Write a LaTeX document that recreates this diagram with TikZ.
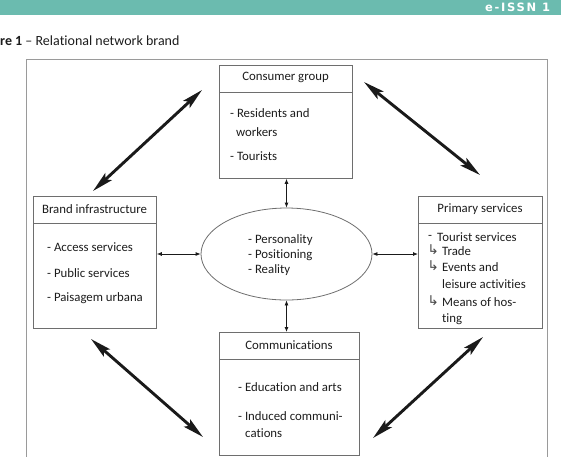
\documentclass[tikz,border=0pt]{standalone}
\usepackage{fontspec}
\setmainfont{Carlito}[Ligatures=NoCommon]
\newfontfamily\symf{DejaVu Sans}
\newfontfamily\hdrf[LetterSpace=15]{DejaVu Sans}
\usetikzlibrary{arrows.meta,shapes.geometric}
\definecolor{teal1}{HTML}{6BBBAF}
\definecolor{framec}{HTML}{9A9A9A}
\definecolor{boxc}{HTML}{6E6E6E}
\definecolor{ink}{HTML}{1C1C1C}
\definecolor{arr}{HTML}{1A1A1A}
\begin{document}
\begin{tikzpicture}[x=1pt,y=-1pt,
  box/.style={draw=boxc,line width=0.8pt,inner sep=0pt,anchor=north west},
  hdr/.style={inner sep=0pt,text=ink,font=\fontsize{12.8}{15}\selectfont},
  item/.style={inner sep=0pt,anchor=west,text=ink,font=\fontsize{12.8}{15}\selectfont},
  hook/.style={inner sep=0pt,anchor=west,text=ink!80,font=\symf\fontsize{13.5}{14}\selectfont},
  small/.style={arr,line width=0.8pt,{Latex[length=5pt,width=4pt]}-{Latex[length=5pt,width=4pt]}},
  big/.style={arr,line width=2.9pt,{Stealth[length=21pt,width=9.5pt,inset=4pt]}-{Stealth[length=21pt,width=9.5pt,inset=4pt]}}
]
\useasboundingbox (0,0) rectangle (561,456);
\begin{scope}
\clip (0,0) rectangle (561,456);
% header band
\fill[teal1] (0,0) rectangle (561,15);
\node[anchor=west,inner sep=0pt,text=white,font=\hdrf\bfseries\fontsize{11.5}{12}\selectfont] (issn) at (485,7.5) {e-ISSN 1};
% caption
\node[anchor=west,inner sep=0pt,text=ink,font=\fontsize{14}{16}\selectfont] (cap) at (0,41) {\textbf{re 1} – Relational network brand};
% outer frame
\draw[framec,line width=0.9pt] (26,470) -- (26,59) -- (547,59) -- (547,470);

% boxes
\node[box,minimum width=133pt,minimum height=113pt] (cg) at (219,65) {};
\node[box,minimum width=123pt,minimum height=132pt] (bi) at (33,196) {};
\node[box,minimum width=124pt,minimum height=132pt] (ps) at (418,196) {};
\node[box,minimum width=140pt,minimum height=123pt] (cm) at (219,332) {};
\node[draw=boxc,line width=0.8pt,ellipse,minimum width=171pt,minimum height=92pt,inner sep=0pt] (el) at (286.5,254) {};

% header dividers
\foreach \b in {cg,bi,ps,cm}{
  \draw[boxc,line width=0.8pt] ([yshift=-27pt]\b.north west) -- ([yshift=-27pt]\b.north east);
}

% headers
\node[hdr] (cgh) at (285.5,77.5) {Consumer group};
\node[hdr] (bih) at (94.5,209.5) {Brand infrastructure};
\node[hdr] (psh) at (480,209.5) {Primary services};
\node[hdr] (cmh) at (289,345.5) {Communications};

% consumer group items
\node[item] (cg1) at (230,113) {- Residents and};
\node[item] (cg2) at (236,132) {workers};
\node[item] (cg3) at (230,156) {- Tourists};

% brand infrastructure items
\node[item] (bi1) at (47,247) {- Access services};
\node[item] (bi2) at (47,273) {- Public services};
\node[item] (bi3) at (47,298) {- Paisagem urbana};

% primary services items
\node[item] (ps0) at (428,237) {-};
\node[item] (ps1) at (437,237) {Tourist services};
\node[hook] (pa1) at (427.5,250) {↳};
\node[item] (ps2) at (442,251) {Trade};
\node[hook] (pa2) at (427.5,266) {↳};
\node[item] (ps3) at (442,267) {Events and};
\node[item] (ps4) at (442,284) {leisure activities};
\node[hook] (pa3) at (427.5,301) {↳};
\node[item] (ps5) at (442,302) {Means of hos-};
\node[item] (ps6) at (442,319) {ting};

% communications items
\node[item] (cm1) at (238,387) {- Education and arts};
\node[item] (cm2) at (238,416) {- Induced communi-};
\node[item] (cm3) at (245,433) {cations};

% ellipse items
\node[item] (el1) at (248,240) {- Personality};
\node[item] (el2) at (248,255) {- Positioning};
\node[item] (el3) at (248,270) {- Reality};

% small arrows
\draw[small] (cg.south -| el.north) -- (el.north);
\draw[small] (bi.east |- el.west) -- (el.west);
\draw[small] (el.east) -- (ps.west |- el.east);
\draw[small] (el.south) -- (el.south |- cm.north);

% big diagonal arrows
\coordinate (a1) at (202,90);  \coordinate (a2) at (93,191);
\coordinate (b1) at (364,82);  \coordinate (b2) at (480,175);
\coordinate (c1) at (91,339);  \coordinate (c2) at (203,437);
\coordinate (d1) at (483,337); \coordinate (d2) at (373,438);
\draw[big] (a1) -- (a2);
\draw[big] (b1) -- (b2);
\draw[big] (c1) -- (c2);
\draw[big] (d1) -- (d2);
\end{scope}
\end{tikzpicture}
\end{document}
